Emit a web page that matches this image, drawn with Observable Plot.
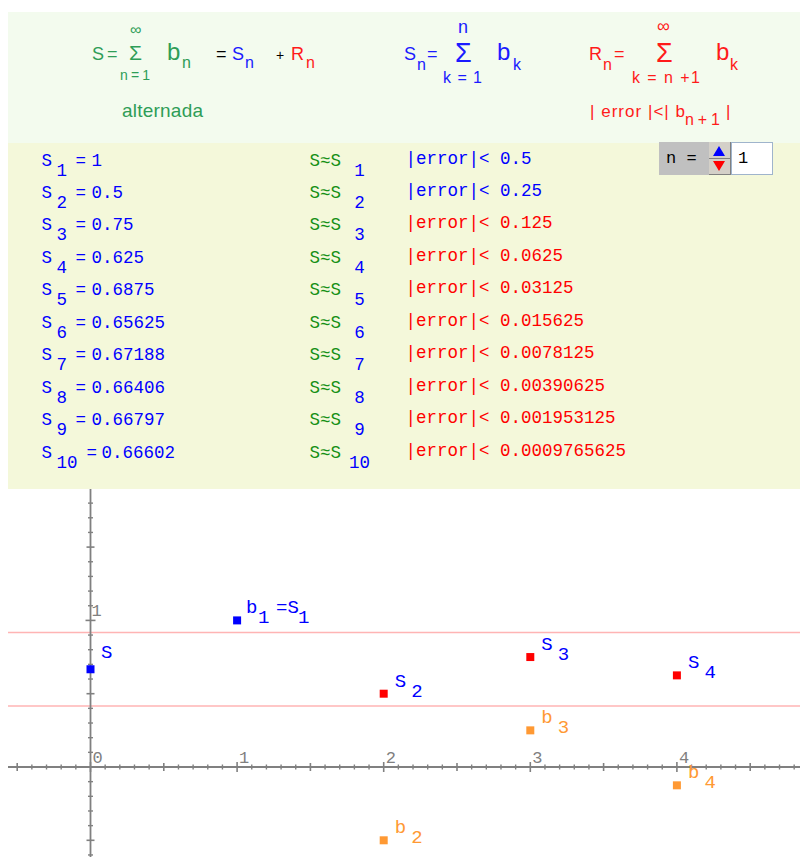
<!DOCTYPE html>
<html>
<head>
<meta charset="utf-8">
<script src="https://cdn.jsdelivr.net/npm/d3@7"></script>
<script src="https://cdn.jsdelivr.net/npm/@observablehq/plot@0.6"></script>
<style>
  html, body { margin: 0; padding: 0; background: #ffffff; }
  #page { position: relative; width: 800px; height: 857px; overflow: hidden; background: #fff; }
  #headBg { position: absolute; left: 8px; top: 12px; width: 792px; height: 131px; background: #f3fbee; }
  #head { position: absolute; left: 0; top: 0; }
  #table { position: absolute; left: 8px; top: 143px; width: 792px; height: 346px; background: #f4f8da; }
  #graph { position: absolute; left: 0; top: 489px; width: 800px; height: 368px; background: #fff; }
  #spinLabel { position: absolute; left: 659px; top: 142px; width: 50px; height: 33px; background: #c0c0c0;
               font: 17px "Liberation Mono", monospace; color: #000; line-height: 33px; text-indent: 7px; white-space: pre; }
  #spinBtns { position: absolute; left: 709px; top: 142px; width: 21px; height: 32px; background: #d4d0c8;
              border-right: 1px solid #808080; border-bottom: 1px solid #808080; }
  #spinBtns .up { position: absolute; left: 4px; top: 4px; width: 0; height: 0; border-left: 6px solid transparent;
                  border-right: 6px solid transparent; border-bottom: 10px solid #0000ff; }
  #spinBtns .mid { position: absolute; left: 0; top: 16px; width: 21px; height: 1px; background: #808080; }
  #spinBtns .down { position: absolute; left: 4px; top: 19px; width: 0; height: 0; border-left: 6px solid transparent;
                    border-right: 6px solid transparent; border-top: 10px solid #ff0000; }
  #spinInput { position: absolute; left: 731px; top: 142px; width: 40px; height: 31px; background: #fff;
               border: 1px solid #9fb4cc; font: 17px "Liberation Mono", monospace; line-height: 31px; text-indent: 6px; }
</style>
</head>
<body>
<div id="page">
  <div id="headBg"></div>
  <svg id="head" width="800" height="143"></svg>
  <div id="table"></div>
  <div id="spinLabel">n =</div>
  <div id="spinBtns"><div class="up"></div><div class="mid"></div><div class="down"></div></div>
  <div id="spinInput">1</div>
  <div id="graph"></div>
</div>
<script>
// ---------------- data ----------------
const nValues = [1, 2, 3, 4];                       // indices shown in the graph
const termValues = [1, -0.5, 0.25, -0.125];         // b_n
const partialSums = [1, 0.5, 0.75, 0.625];          // S_n
const seriesSum = 0.6667;                           // S
const bandLines = [0.9167, 0.4167];                 // pink error band
const tableN = [1, 2, 3, 4, 5, 6, 7, 8, 9, 10];
const tableSums = ["1", "0.5", "0.75", "0.625", "0.6875", "0.65625", "0.67188", "0.66406", "0.66797", "0.66602"];
const errorBounds = ["0.5", "0.25", "0.125", "0.0625", "0.03125", "0.015625", "0.0078125", "0.00390625", "0.001953125", "0.0009765625"];
const xTickLabels = [0, 1, 2, 3, 4];
const yTickLabels = [1];

// ---------------- colours / fonts ----------------
const BLUE = "#0000ff", RED = "#ff0000", ORANGE = "#ff9933", GREEN = "#159015", AXIS = "#808080", PINK = "#ffb4b4";
const GREEN_H = "#2e9d57", BLUE_H = "#1a1aff", RED_H = "#ff1a1a";
const MONO = "Liberation Mono, DejaVu Sans Mono, monospace";
const SANS = "Liberation Sans, Arial, sans-serif";

// ---------------- header formulas (text) ----------------
const headerPieces = [
  ["S", 92, 60, 18, GREEN_H], ["=", 107, 60, 18, GREEN_H], ["Σ", 129, 60, 21, GREEN_H],
  ["∞", 130, 35, 16, GREEN_H], ["n=1", 120, 80, 14, GREEN_H, 30],
  ["b", 167, 60, 24, GREEN_H], ["n", 182, 68, 16, GREEN_H],
  ["=", 216, 60, 18, "#000"], ["S", 232, 60, 18, BLUE_H], ["n", 245, 68, 16, BLUE_H],
  ["+", 276, 60, 14, "#000"], ["R", 291, 60, 18, RED_H], ["n", 306, 68, 16, RED_H],
  ["alternada", 122, 117, 19, GREEN_H, 81],
  ["S", 404, 60, 18, BLUE_H], ["n", 417, 70, 16, BLUE_H], ["=", 427, 60, 18, BLUE_H],
  ["Σ", 455, 62, 27, BLUE_H], ["n", 458, 33, 18, BLUE_H], ["k=1", 443, 83, 16, BLUE_H, 39],
  ["b", 497, 60, 24, BLUE_H], ["k", 513, 70, 16, BLUE_H],
  ["R", 589, 60, 18, RED_H], ["n", 603, 70, 16, RED_H], ["=", 614, 60, 18, RED_H],
  ["∞", 657, 32, 18, RED_H], ["Σ", 656, 62, 27, RED_H], ["k = n +1", 632, 83, 16, RED_H, 68],
  ["b", 716, 60, 24, RED_H], ["k", 730, 70, 16, RED_H],
  ["| error |<| b", 590, 117, 17, RED_H, 95], ["n+1", 685, 125, 16, RED_H, 35], ["|", 726, 117, 17, RED_H]
];
const head = d3.select("#head");
for (const [t, x, y, s, c, len] of headerPieces) {
  const el = head.append("text").attr("x", x).attr("y", y).attr("fill", c)
    .attr("font-family", SANS).attr("font-size", s).style("white-space", "pre").text(t);
  if (len) el.attr("textLength", len).attr("lengthAdjust", "spacing");
}

// ---------------- table of partial sums ----------------
const rows = tableN.map((n, i) => ({n, sum: tableSums[i], err: errorBounds[i], errColor: i < 2 ? BLUE : RED}));
const tf = {fontFamily: MONO, fontSize: 17.5, frameAnchor: "left", textAnchor: "start", lineAnchor: "bottom"};
const tablePlot = Plot.plot({
  width: 792, height: 346, margin: 0,
  style: {background: "#f4f8da", overflow: "visible"},
  y: {domain: [1, 10], range: [22, 314], axis: null},
  color: {type: "identity"},
  marks: [
    Plot.text(rows, {...tf, y: "n", text: () => "S", dx: 33, fill: BLUE}),
    Plot.text(rows, {...tf, y: "n", text: d => String(d.n), dx: 48, dy: 10, fill: BLUE}),
    Plot.text(rows, {...tf, filter: d => d.n < 10, y: "n", text: () => "=", dx: 67, fill: BLUE}),
    Plot.text(rows, {...tf, filter: d => d.n < 10, y: "n", text: "sum", dx: 83, fill: BLUE}),
    Plot.text(rows, {...tf, filter: d => d.n >= 10, y: "n", text: () => "=", dx: 78, fill: BLUE}),
    Plot.text(rows, {...tf, filter: d => d.n >= 10, y: "n", text: "sum", dx: 93, fill: BLUE}),
    Plot.text(rows, {...tf, y: "n", text: () => "S≈S", dx: 301, fill: GREEN}),
    Plot.text(rows, {...tf, y: "n", text: d => String(d.n), textAnchor: "middle", dx: 351, dy: 10, fill: BLUE}),
    Plot.text(rows, {...tf, y: "n", text: d => "|error|< " + d.err, dx: 397, dy: -2, fill: "errColor"})
  ]
});
document.getElementById("table").appendChild(tablePlot);

// ---------------- graph ----------------
const unit = 146.6;                      // pixels per unit (both axes)
const W = 800, H = 368, mL = 8;
const x0px = 90, y0px = 277.5;           // origin position inside the svg
const xDomain = [(mL - x0px) / unit, (W - x0px) / unit];
const yDomain = [(y0px - H) / unit, y0px / unit];

const vTick = {draw(ctx, size) { const h = Math.sqrt(size) / 2; ctx.moveTo(0, -h); ctx.lineTo(0, h); }};
const hTick = {draw(ctx, size) { const h = Math.sqrt(size) / 2; ctx.moveTo(-h, 0); ctx.lineTo(h, 0); }};
const rOf = len => len / Math.sqrt(Math.PI);

const xTicks = d3.range(-5, 49).map(i => i / 10);
const yTicks = d3.range(-6, 19).map(i => i / 10);
const isInt = v => Math.abs(v - Math.round(v)) < 1e-9;
const isHalf = v => !isInt(v) && Math.abs(v * 2 - Math.round(v * 2)) < 1e-9;
const isMinor = v => !isInt(v) && !isHalf(v);

const sums = nValues.map((n, i) => ({n, x: n, y: partialSums[i]}));
const terms = nValues.map((n, i) => ({n, x: n, y: termValues[i]}));
const lf = {fontFamily: MONO, fontSize: 19, textAnchor: "start", lineAnchor: "bottom"};
const sq = {symbol: "square", r: rOf(8), stroke: "none"};
const tl = {fill: AXIS, fontFamily: MONO, fontSize: 17, textAnchor: "start", lineAnchor: "bottom"};

const graph = Plot.plot({
  width: W, height: H, marginLeft: mL, marginRight: 0, marginTop: 0, marginBottom: 0,
  style: {background: "#ffffff", overflow: "visible"},
  x: {domain: xDomain, axis: null},
  y: {domain: yDomain, axis: null},
  marks: [
    Plot.ruleY(bandLines, {stroke: PINK, strokeWidth: 1.5}),
    Plot.ruleY([0], {stroke: AXIS, strokeWidth: 1.8}),
    Plot.ruleX([0], {stroke: AXIS, strokeWidth: 1.8}),
    Plot.dot(xTicks.filter(isMinor), {x: d => d, y: 0, symbol: vTick, r: rOf(5), stroke: AXIS, fill: "none", strokeWidth: 1.4}),
    Plot.dot(xTicks.filter(isHalf), {x: d => d, y: 0, symbol: vTick, r: rOf(8), stroke: AXIS, fill: "none", strokeWidth: 1.6}),
    Plot.dot(xTicks.filter(isInt), {x: d => d, y: 0, symbol: vTick, r: rOf(10), stroke: AXIS, fill: "none", strokeWidth: 1.6}),
    Plot.dot(yTicks.filter(isMinor), {x: 0, y: d => d, symbol: hTick, r: rOf(5), stroke: AXIS, fill: "none", strokeWidth: 1.4}),
    Plot.dot(yTicks.filter(isHalf), {x: 0, y: d => d, symbol: hTick, r: rOf(8), stroke: AXIS, fill: "none", strokeWidth: 1.6}),
    Plot.dot(yTicks.filter(isInt), {x: 0, y: d => d, symbol: hTick, r: rOf(10), stroke: AXIS, fill: "none", strokeWidth: 1.6}),
    Plot.text(xTickLabels, {...tl, x: d => d, y: 0, text: d => String(d), dx: 2, dy: -4}),
    Plot.text(yTickLabels, {...tl, x: 0, y: d => d, text: d => String(d), dx: 1, dy: -4}),
    // points
    Plot.dot(terms.filter(d => d.n > 1), {x: "x", y: "y", ...sq, fill: ORANGE}),
    Plot.dot(sums.filter(d => d.n > 1), {x: "x", y: "y", ...sq, fill: RED}),
    Plot.dot(sums.filter(d => d.n === 1), {x: "x", y: "y", ...sq, fill: BLUE}),
    Plot.dot([seriesSum], {x: 0, y: d => d, ...sq, fill: BLUE}),
    // labels
    Plot.text(sums.filter(d => d.n > 1), {...lf, x: "x", y: "y", text: () => "S", dx: 11, dy: -7, fill: BLUE}),
    Plot.text(sums.filter(d => d.n > 1), {...lf, x: "x", y: "y", text: d => String(d.n), dx: 27.5, dy: 3, fill: BLUE}),
    Plot.text(terms.filter(d => d.n > 1), {...lf, x: "x", y: "y", text: () => "b", dx: 11, dy: -7, fill: ORANGE}),
    Plot.text(terms.filter(d => d.n > 1), {...lf, x: "x", y: "y", text: d => String(d.n), dx: 27.5, dy: 3, fill: ORANGE}),
    Plot.text(terms.filter(d => d.n === 1), {...lf, x: "x", y: "y", text: () => "b", dx: 9, dy: -7, fill: BLUE}),
    Plot.text(terms.filter(d => d.n === 1), {...lf, x: "x", y: "y", text: d => String(d.n), dx: 21, dy: 3, fill: BLUE}),
    Plot.text(terms.filter(d => d.n === 1), {...lf, x: "x", y: "y", text: () => "=S", dx: 39, dy: -7, fill: BLUE}),
    Plot.text(terms.filter(d => d.n === 1), {...lf, x: "x", y: "y", text: d => String(d.n), dx: 61, dy: 3, fill: BLUE}),
    Plot.text([seriesSum], {...lf, x: 0, y: d => d, text: () => "S", dx: 10.5, dy: -11, fill: BLUE})
  ]
});
document.getElementById("graph").appendChild(graph);
</script>
</body>
</html>
